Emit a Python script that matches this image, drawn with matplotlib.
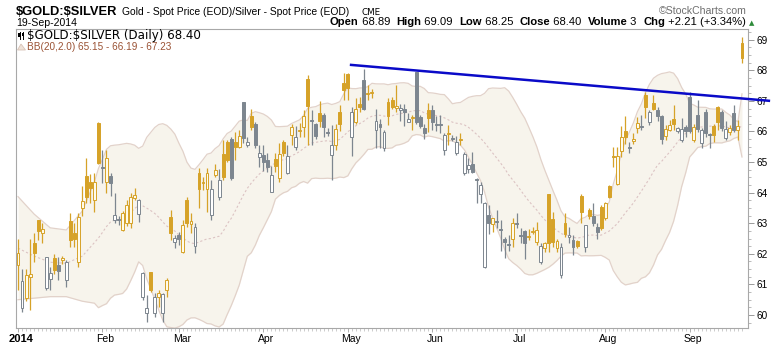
import numpy as np
import pandas as pd
import matplotlib
matplotlib.use('Agg')
import matplotlib.pyplot as plt
from matplotlib.patches import Rectangle, Polygon
from matplotlib.lines import Line2D
from matplotlib.transforms import ScaledTranslation

plt.rcParams['font.family'] = ['Liberation Sans', 'DejaVu Sans']

# $GOLD:$SILVER daily OHLC, trading days 2 Jan - 19 Sep 2014
opens = [61.63, 60.22, 60.55, 61.25, 62.36, 63.10, 62.69, 60.87, 61.17, 61.87, 61.63, 61.80, 61.14, 63.07,
         62.67, 61.74, 63.49, 64.54, 64.36, 63.76, 66.29, 64.85, 64.36, 64.54, 63.10, 63.15, 62.78,
         63.00, 63.02, 63.82, 63.30, 60.60, 60.05, 61.42, 60.08, 60.58, 60.08, 60.82, 63.21, 62.40, 62.61,
         62.07, 63.76, 62.97, 62.25, 64.63, 64.30, 64.11, 63.27, 64.58, 63.87, 65.25, 65.66, 65.77, 65.66,
         65.48, 66.97, 65.56, 66.50, 66.26, 65.17,
         65.23, 65.07, 64.03, 65.09, 64.47, 65.64, 64.63, 65.90, 65.48, 66.00, 66.15, 67.73, 66.39, 66.26,
         66.59, 66.54, 65.97,
         65.23, 65.56, 66.64, 67.57, 67.88, 65.83, 66.32, 66.90, 67.68, 67.24, 67.25, 66.05, 66.26, 65.45,
         66.97, 67.03, 66.77, 66.70, 66.74, 66.31, 66.43, 67.95, 66.46, 66.12, 66.70,
         66.70, 66.25, 66.25, 65.39, 65.92, 65.79, 65.31, 65.72, 64.63, 64.76, 64.93, 64.43, 63.94, 61.58,
         63.27, 62.97, 63.07, 62.80, 62.47, 62.33, 62.50, 63.00, 62.60, 62.75, 62.55, 62.70,
         62.40, 61.74, 62.18, 63.94, 63.13, 62.18, 61.31, 63.02, 62.54, 62.45, 62.43, 63.89, 62.23, 63.43,
         63.24, 62.87, 63.54, 63.16, 64.22, 65.20, 64.28, 65.37, 66.03, 65.50, 65.70, 66.10,
         66.17, 67.19, 66.32, 66.94, 66.70, 66.50, 65.85, 66.05, 66.42, 66.00, 65.72, 66.15, 67.13, 65.72,
         66.54, 65.61, 66.64, 65.90, 66.18, 66.79, 66.64, 65.78, 65.99, 66.61, 66.05, 68.89]
highs = [62.47, 61.52, 61.50, 62.47, 62.67, 63.12, 63.00, 61.91, 61.58, 61.99, 61.90, 61.92, 61.80, 63.35,
         63.00, 63.35, 64.23, 65.12, 64.60, 64.63, 66.30, 65.40, 65.40, 64.65, 63.98, 63.25, 63.40,
         63.75, 63.98, 64.14, 63.80, 61.42, 60.65, 61.42, 60.71, 60.82, 60.71, 61.20, 63.43, 62.60, 62.70,
         63.10, 63.87, 63.32, 63.02, 64.79, 64.50, 64.79, 64.41, 64.93, 64.76, 65.72, 65.72, 65.83, 65.99,
         66.05, 66.97, 65.83, 66.72, 66.32, 65.56,
         65.55, 65.29, 64.86, 65.29, 65.62, 65.72, 65.56, 66.26, 66.17, 66.27, 66.70, 67.84, 66.70, 66.27,
         66.99, 66.60, 66.10,
         66.20, 66.26, 66.86, 67.90, 67.90, 66.80, 67.08, 67.13, 68.03, 67.52, 67.40, 66.75, 66.42, 66.05,
         67.08, 67.13, 67.52, 66.90, 66.90, 66.60, 66.54, 67.95, 66.54, 66.26, 66.92,
         66.86, 66.50, 66.55, 65.94, 66.20, 65.87, 65.84, 65.96, 65.34, 65.12, 65.34, 64.48, 64.36, 63.71,
         63.60, 63.16, 63.43, 63.10, 62.54, 62.62, 63.16, 63.35, 62.85, 62.78, 62.82, 62.87,
         63.05, 62.34, 62.40, 63.97, 63.38, 62.50, 62.34, 63.35, 62.87, 62.61, 62.45, 63.97, 62.94, 63.49,
         63.65, 63.00, 63.60, 63.70, 64.25, 65.50, 65.50, 66.17, 66.50, 65.64, 65.96, 66.46,
         66.54, 67.30, 66.70, 67.19, 66.81, 66.54, 66.20, 66.37, 66.86, 66.15, 66.45, 66.20, 67.28, 66.26,
         67.03, 66.10, 66.75, 65.94, 66.26, 66.84, 66.70, 66.35, 66.20, 66.88, 66.37, 69.09]
lows = [60.82, 60.10, 60.45, 60.15, 61.72, 62.45, 62.34, 60.82, 60.82, 61.34, 61.14, 61.68, 60.92, 62.23,
        62.23, 61.56, 63.23, 63.65, 63.65, 63.38, 64.95, 64.30, 64.00, 63.90, 63.00, 62.95, 62.75,
        62.90, 62.85, 63.76, 63.05, 60.49, 59.78, 60.76, 59.95, 60.27, 59.78, 60.60, 62.45, 62.20, 62.30,
        62.04, 62.89, 62.67, 62.02, 63.49, 64.10, 63.38, 63.10, 64.52, 63.76, 64.41, 65.00, 64.41, 65.07,
        65.45, 65.61, 65.50, 66.05, 65.45, 64.85,
        64.72, 64.68, 64.01, 64.68, 64.36, 65.20, 64.61, 65.56, 65.40, 65.82, 65.82, 65.56, 65.56, 65.77,
        66.15, 65.81, 65.85,
        64.41, 65.40, 66.00, 67.02, 67.02, 65.20, 66.26, 66.65, 66.70, 67.02, 67.08, 65.45, 65.45, 65.36,
        66.20, 66.75, 66.64, 66.35, 66.17, 66.30, 66.05, 66.26, 66.10, 65.77, 65.99,
        66.05, 66.02, 65.95, 65.23, 65.55, 65.70, 65.23, 65.55, 64.58, 64.63, 64.63, 63.66, 63.66, 61.53,
        62.66, 62.72, 62.84, 62.10, 61.85, 62.08, 62.23, 62.83, 62.34, 61.82, 62.45, 62.65,
        62.28, 61.68, 62.07, 62.07, 62.23, 62.07, 61.20, 62.56, 62.34, 61.96, 62.20, 63.02, 62.07, 63.13,
        62.90, 62.50, 62.78, 63.10, 63.82, 64.85, 64.25, 65.17, 65.60, 65.30, 65.60, 65.96,
        66.05, 66.45, 66.20, 66.70, 66.35, 65.60, 65.72, 66.00, 66.05, 65.95, 65.65, 65.82, 65.95, 65.67,
        65.99, 65.45, 65.83, 65.45, 65.67, 66.05, 66.02, 65.72, 65.90, 65.99, 65.72, 68.25]
closes = [62.02, 61.12, 61.30, 61.35, 62.04, 62.76, 62.80, 61.91, 61.38, 61.47, 61.45, 61.85, 61.72, 62.45,
          62.47, 63.19, 63.74, 63.85, 64.14, 64.34, 64.98, 64.82, 65.14, 64.32, 63.27, 63.10, 63.32,
          63.60, 63.87, 63.93, 63.76, 61.38, 60.22, 60.82, 60.60, 60.71, 60.68, 61.14, 62.67, 62.51, 62.47,
          62.94, 63.02, 63.07, 62.89, 64.11, 64.36, 64.63, 64.11, 64.74, 64.41, 64.52, 65.07, 64.47, 65.48,
          65.86, 65.80, 65.66, 66.15, 65.56, 65.31,
          65.01, 64.83, 64.58, 64.87, 65.25, 65.28, 65.20, 66.13, 65.81, 66.05, 66.50, 66.83, 66.34, 65.85,
          66.35, 66.15, 65.94,
          65.56, 66.07, 66.26, 67.35, 67.41, 66.64, 66.75, 66.79, 66.75, 67.27, 67.28, 66.35, 66.15, 65.99,
          66.50, 66.79, 66.83, 66.77, 66.63, 66.41, 66.46, 66.32, 66.18, 65.94, 66.43,
          66.32, 66.22, 66.20, 65.88, 65.96, 65.76, 65.66, 65.76, 65.26, 64.92, 64.68, 64.41, 64.25, 63.65,
          63.00, 63.16, 63.05, 62.78, 62.39, 62.30, 63.02, 62.98, 62.57, 62.34, 62.58, 62.72,
          62.78, 62.25, 62.34, 62.36, 62.40, 62.43, 62.21, 62.65, 62.61, 62.23, 62.25, 63.38, 62.94, 63.24,
          63.00, 62.72, 62.83, 63.67, 63.87, 65.15, 65.20, 65.81, 65.83, 65.47, 65.77, 66.29,
          66.15, 66.79, 66.64, 66.74, 66.50, 65.77, 66.07, 66.20, 66.23, 66.12, 66.08, 66.03, 66.00, 66.15,
          66.07, 66.05, 65.94, 65.88, 65.90, 66.32, 66.10, 66.08, 66.10, 66.05, 66.19, 68.40]

# first trading day of each month
month_labels = ['2014', 'Feb', 'Mar', 'Apr', 'May', 'Jun', 'Jul', 'Aug', 'Sep']
month_starts = [0, 21, 40, 61, 82, 103, 124, 146, 167]

# bands before 20 closes exist (carried over from December)
bb_head_idx = [0, 4, 8, 12, 16]
bb_head_upper = [63.87, 63.30, 62.85, 62.78, 63.40]
bb_head_lower = [60.50, 60.55, 60.60, 60.60, 60.45]

# resistance line across the highs
trend_idx = [82.5, 187.0]
trend_val = [68.18, 67.00]

GOLD = '#d6a228'
GREY = '#7d868f'
n = len(closes)

# Bollinger Bands (20, 2.0)
cs = pd.Series(closes)
mid = cs.rolling(20).mean()
sd = cs.rolling(20).std(ddof=0)
bx = bb_head_idx + list(range(19, n))
bu = bb_head_upper + list((mid + 2 * sd)[19:])
bl = bb_head_lower + list((mid - 2 * sd)[19:])
bm = [(u + l) / 2 for u, l in zip(bb_head_upper, bb_head_lower)] + list(mid[19:])

W, H = 780, 345
fig = plt.figure(figsize=(W / 100, H / 100), dpi=100)
ax = fig.add_axes([16 / W, 17 / H, 732 / W, 299 / H])
ax.set_xlim(-0.5, 181.5)
ax.set_ylim(59.575, 69.35)

ax.fill_between(bx, bl, bu, color='#f7f4ec', lw=0, zorder=1)
ax.plot(bx, bu, color='#e2d2ca', lw=0.9, zorder=1.5)
ax.plot(bx, bl, color='#e2d2ca', lw=0.9, zorder=1.5)
ax.plot(bx, bm, color='#dcc3c3', lw=0.8, ls=(0, (2, 2)), zorder=1.5)

for i in range(n):
    o, h, l, c = opens[i], highs[i], lows[i], closes[i]
    up = i == 0 or c >= closes[i - 1]
    col = GOLD if up else GREY
    ax.vlines(i, l, h, color=col, lw=0.9, zorder=3)
    lo, hi = min(o, c), max(o, c)
    if c > o:
        face = '#fffbea' if up else 'white'
    else:
        face = col
    ax.add_patch(Rectangle((i - 0.36, lo), 0.72, max(hi - lo, 0.03),
                           facecolor=face, edgecolor=col, lw=0.7, zorder=4))

ax.plot(trend_idx, trend_val, color='#0a0ac8', lw=1.8, zorder=5, clip_on=False,
        solid_capstyle='butt')

for s in ax.spines.values():
    s.set_color('#a8a8a8')
    s.set_linewidth(0.8)

ax.yaxis.tick_right()
ax.set_yticks(range(60, 70))
ax.set_yticks(np.arange(59.75, 69.3, 0.25), minor=True)
ax.tick_params(axis='y', which='major', length=4, width=0.7, color='#9a9a9a',
               labelsize=7.2, pad=2)
ax.tick_params(axis='y', which='minor', length=2, width=0.6, color='#b0b0b0')

ax.set_xticks(month_starts)
ax.set_xticklabels(month_labels)
ax.set_xticks(range(n), minor=True)
ax.tick_params(axis='x', which='major', length=3, width=0.6, color='#a0a0a0',
               labelsize=7.5, pad=1.5)
ax.tick_params(axis='x', which='minor', length=2, width=0.5, color='#b8b8b8')
shift = ScaledTranslation(3 / 100, 0, fig.dpi_scale_trans)
for k, lbl in enumerate(ax.get_xticklabels()):
    lbl.set_transform(lbl.get_transform() + shift)
    if k == 0:
        lbl.set_fontweight('bold')
        lbl.set_fontsize(8)


def fx(x):
    return x / W


def fy(y):
    return 1 - y / H


# header
fig.text(fx(16), fy(15), r'\$GOLD:\$SILVER', fontsize=9.3, fontweight='bold', va='baseline')
fig.text(fx(122), fy(15), 'Gold - Spot Price (EOD)/Silver - Spot Price (EOD)', fontsize=7.4,
         va='baseline')
fig.text(fx(362), fy(15), 'CME', fontsize=6.3, va='baseline', family='DejaVu Sans')
fig.text(fx(16), fy(26.5), '19-Sep-2014', fontsize=7.6, va='baseline')
fig.text(fx(747), fy(14), '\u00a9StockCharts.com', fontsize=7.6, va='baseline', ha='right',
         color='#6e6e6e')

parts = [('Open', 'bold'), (' 68.89  ', 'normal'), ('High', 'bold'), (' 69.09  ', 'normal'),
         ('Low', 'bold'), (' 68.25  ', 'normal'), ('Close', 'bold'), (' 68.40  ', 'normal'),
         ('Volume', 'bold'), (' 3  ', 'normal'), ('Chg', 'bold'), (' +2.21 (+3.34%) ', 'normal')]
prev = fig.text(fx(330), fy(27), parts[0][0], fontsize=8.1, fontweight='bold', va='bottom')
for s, wgt in parts[1:]:
    prev = ax.annotate(s, xy=(1, 0), xycoords=prev, va='bottom', ha='left', fontsize=8.1,
                       fontweight=wgt, annotation_clip=False)
ax.annotate('\u25b2', xy=(1, 0.12), xycoords=prev, va='bottom', ha='left', fontsize=5,
            color='#2e8b3a', family='DejaVu Sans', annotation_clip=False)

# legend inside the chart
for x0, y0, y1, b0, b1 in [(19.5, 31.5, 38.5, 33, 37), (23, 31.5, 38.5, 33.5, 36)]:
    fig.add_artist(Line2D([fx(x0), fx(x0)], [fy(y0), fy(y1)], color='black', lw=0.7))
    fig.add_artist(Rectangle((fx(x0 - 1.2), fy(b1)), 2.4 / W, (b1 - b0) / H,
                             transform=fig.transFigure, facecolor='black', lw=0))
fig.text(fx(27), fy(38.5), r'\$GOLD:\$SILVER (Daily) 68.40', fontsize=8.6, va='baseline',
         family='DejaVu Sans')
fig.add_artist(Polygon([(fx(17.5), fy(50)), (fx(21), fy(44)), (fx(25.5), fy(50))],
                       closed=True, transform=fig.transFigure, facecolor='#eee2d8',
                       edgecolor='#d8c2b6', lw=0.6))
fig.text(fx(27), fy(50), 'BB(20,2.0) 65.15 - 66.19 - 67.23', fontsize=7.2, va='baseline',
         color='#9a5234')

fig.savefig('out.png', dpi=100, facecolor='white')
